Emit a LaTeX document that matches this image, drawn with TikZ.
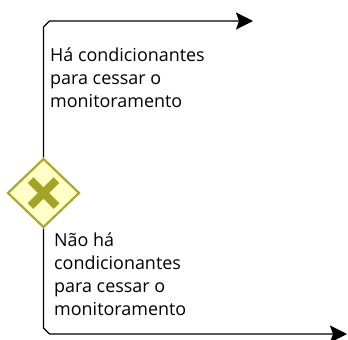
\documentclass[tikz,border=0pt]{standalone}
\usepackage{fontspec}
\setmainfont{Open Sans}
\usetikzlibrary{shapes.geometric,arrows.meta}
\definecolor{gwfill}{HTML}{FFFFC6}
\definecolor{gwline}{HTML}{A8A832}
\definecolor{gwx}{HTML}{A3A326}
\tikzset{
  flow/.style={draw=black, line width=1.3bp, -{Stealth[length=17bp,width=17bp,inset=3bp]}},
  gateway/.style={diamond, draw=gwline, fill=gwfill, line width=2.2bp, minimum width=72bp, minimum height=69bp, inner sep=0pt},
  xmark/.style={draw=gwx, line width=8bp, line cap=butt},
  lbl/.style={anchor=base west, align=left, inner sep=0pt, font=\fontsize{18}{23}\selectfont}
}
\begin{document}
\begin{tikzpicture}[x=1bp,y=-1bp]
\useasboundingbox (0,0) rectangle (348,340);
\node[gateway] (g) at (43.5,193) {};
\draw[xmark] (30.5,180) -- (56.5,206);
\draw[xmark] (30.5,206) -- (56.5,180);
\coordinate (c1) at (43.5,27);
\coordinate (c2) at (49.5,21);
\coordinate (e1) at (253,21);
\coordinate (c3) at (43.5,328);
\coordinate (c4) at (49.5,334);
\coordinate (e2) at (347,334);
\draw[flow] (g.north) -- (c1) -- (c2) -- (e1);
\draw[flow] (g.south) -- (c3) -- (c4) -- (e2);
\node[lbl] (t1) at (50,107.7) {Há condicionantes\\para cessar o\\monitoramento};
\node[lbl] (t2) at (54,315) {Não há\\condicionantes\\para cessar o\\monitoramento};
\end{tikzpicture}
\end{document}
